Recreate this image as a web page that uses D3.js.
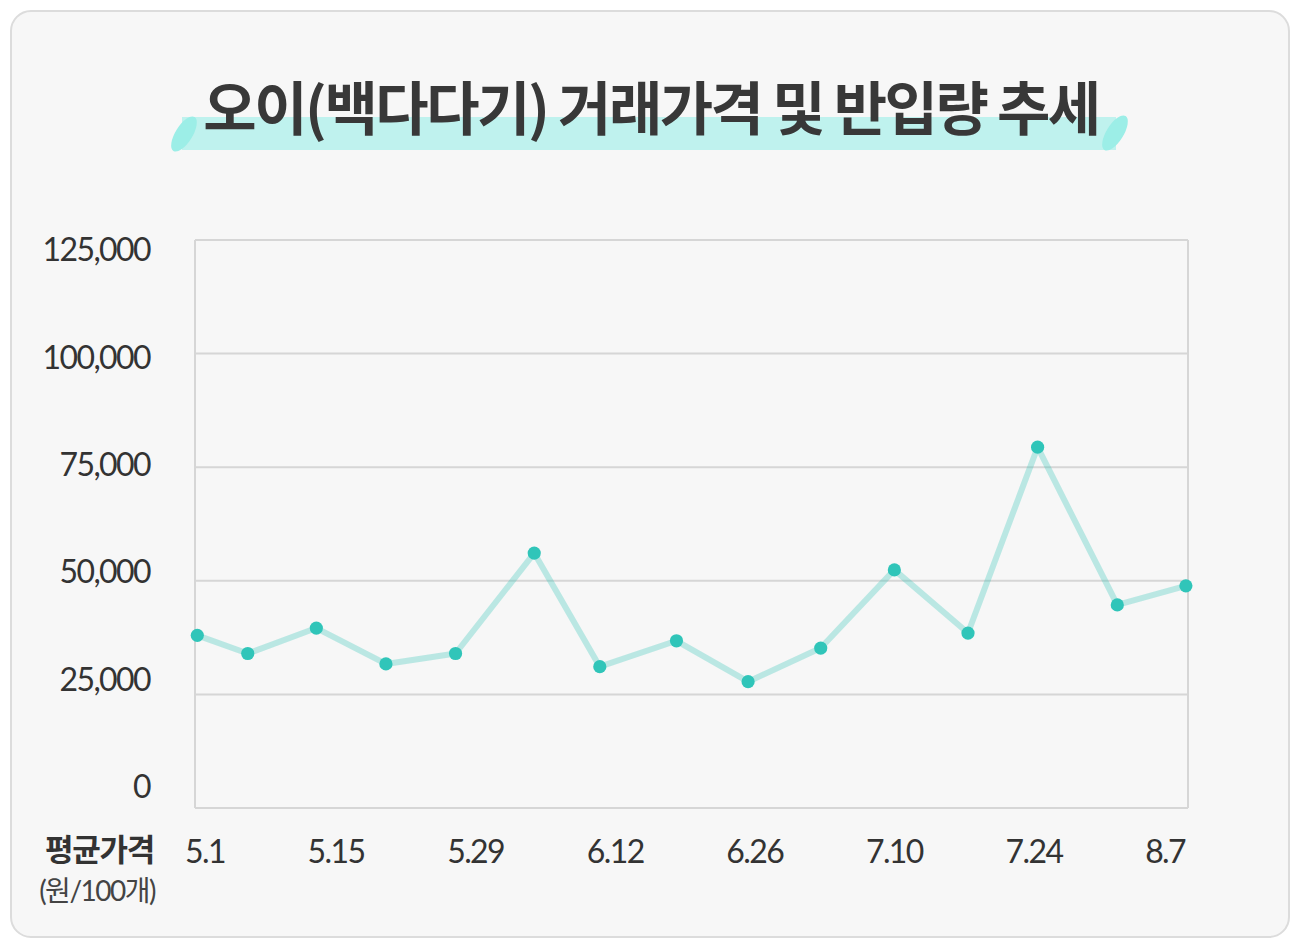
<!DOCTYPE html>
<html>
<head>
<meta charset="utf-8">
<script src="https://cdn.jsdelivr.net/npm/d3@7"></script>
<style>
  html, body { margin: 0; padding: 0; background: #ffffff; }
  svg { display: block; }
</style>
</head>
<body>
<svg id="chart" width="1300" height="947"></svg>
<script>
// ---- data ----
const titleText = "오이(백다다기) 거래가격 및 반입량 추세";
const yAxisLabel = "평균가격";
const yAxisUnit = "(원/100개)";
// day offsets from 5.1 at which each point is plotted
const pointDays = [0, 5, 11.8, 18.7, 25.6, 33.4, 39.9, 47.5, 54.6, 61.8, 69.1, 76.4, 83.3, 91.2, 98];
const prices = [38000, 34000, 39600, 31700, 34000, 56100, 31100, 36800, 27800, 35200, 52400, 38500, 79400, 44700, 48900];
const xTickLabels = ["5.1", "5.15", "5.29", "6.12", "6.26", "7.10", "7.24", "8.7"];
const yTicks = [0, 25000, 50000, 75000, 100000, 125000];

// ---- layout ----
const svg = d3.select("#chart");
const plot = { left: 195, right: 1188, top: 240, bottom: 808 };

// card
svg.append("rect")
  .attr("x", 11).attr("y", 11).attr("width", 1278).attr("height", 926)
  .attr("rx", 20).attr("ry", 20)
  .attr("fill", "#f7f7f7").attr("stroke", "#dcdcdc").attr("stroke-width", 2);

// title highlight brush
const hl = svg.append("g");
hl.append("rect").attr("x", 182).attr("y", 117).attr("width", 934).attr("height", 33)
  .attr("fill", "#bff2ee");
hl.append("ellipse").attr("cx", 184).attr("cy", 134).attr("rx", 20).attr("ry", 8.5)
  .attr("transform", "rotate(-58,184,134)").attr("fill", "#9ceee7");
hl.append("ellipse").attr("cx", 1115).attr("cy", 133).attr("rx", 20).attr("ry", 8.5)
  .attr("transform", "rotate(-58,1115,133)").attr("fill", "#9ceee7");

svg.append("text")
  .attr("x", 651).attr("y", 130)
  .attr("text-anchor", "middle")
  .attr("font-family", "'Noto Sans CJK KR', 'Noto Sans', sans-serif")
  .attr("font-weight", 700)
  .attr("font-size", 58)
  .attr("letter-spacing", "-2.5px")
  .attr("fill", "#383838")
  .text(titleText);

// scales
const y = d3.scaleLinear().domain([0, 125000]).range([plot.bottom, plot.top]);
// tick labels are laid out evenly on their own band
const yLabel = d3.scaleLinear().domain([0, 125000]).range([787, 250]);
const x = d3.scaleLinear().domain([0, 98]).range([197.3, 1185.9]);

// gridlines
const grid = svg.append("g");
grid.selectAll("line.h").data(yTicks).join("line")
  .attr("x1", plot.left).attr("x2", plot.right)
  .attr("y1", d => y(d)).attr("y2", d => y(d))
  .attr("stroke", "#d6d6d6").attr("stroke-width", 2);
[plot.left, plot.right].forEach(px => {
  grid.append("line").attr("x1", px).attr("x2", px)
    .attr("y1", plot.top).attr("y2", plot.bottom)
    .attr("stroke", "#d6d6d6").attr("stroke-width", 2);
});

// y labels
const fmt = d3.format(",");
svg.append("g").selectAll("text").data(yTicks).join("text")
  .attr("x", 150).attr("y", d => yLabel(d))
  .attr("dy", "0.35em")
  .attr("text-anchor", "end")
  .attr("font-family", "Lato, sans-serif")
  .attr("font-size", 32)
  .attr("letter-spacing", "-1.6px")
  .attr("fill", "#333")
  .text(d => fmt(d));

// line
const data = pointDays.map((d, i) => ({ day: d, v: prices[i] }));
svg.append("path").datum(data)
  .attr("fill", "none")
  .attr("stroke", "#2ec4b6").attr("stroke-opacity", 0.3)
  .attr("stroke-width", 6)
  .attr("stroke-linejoin", "round")
  .attr("d", d3.line().x(d => x(d.day)).y(d => y(d.v)));

svg.append("g").selectAll("circle").data(data).join("circle")
  .attr("cx", d => x(d.day)).attr("cy", d => y(d.v))
  .attr("r", 6.6).attr("fill", "#30c5b9");

// x labels: distributed space-between from 185 to 1185
const xl = svg.append("g");
const labels = xl.selectAll("text").data(xTickLabels).join("text")
  .attr("y", 852).attr("dy", "0.35em")
  .attr("font-family", "Lato, sans-serif")
  .attr("font-size", 32)
  .attr("letter-spacing", "-1.6px")
  .attr("fill", "#333")
  .text(d => d);
const widths = [];
labels.each(function () { widths.push(this.getComputedTextLength()); });
const lStart = 185, lEnd = 1185;
const totalW = d3.sum(widths);
const gap = (lEnd - lStart - totalW) / (xTickLabels.length - 1);
let cursor = lStart;
labels.attr("x", (d, i) => { const px = cursor; cursor += widths[i] + gap; return px; });

// axis title
svg.append("text")
  .attr("x", 154).attr("y", 850).attr("dy", "0.35em")
  .attr("text-anchor", "end")
  .attr("font-family", "'Noto Sans CJK KR', sans-serif")
  .attr("font-weight", 700).attr("font-size", 31)
  .attr("letter-spacing", "-1.3px")
  .attr("fill", "#333")
  .text(yAxisLabel);
svg.append("text")
  .attr("x", 155).attr("y", 891).attr("dy", "0.35em")
  .attr("text-anchor", "end")
  .attr("font-family", "Lato, 'Noto Sans CJK KR', sans-serif")
  .attr("font-size", 28)
  .attr("letter-spacing", "-1.5px")
  .attr("fill", "#444")
  .text(yAxisUnit);
</script>
</body>
</html>
